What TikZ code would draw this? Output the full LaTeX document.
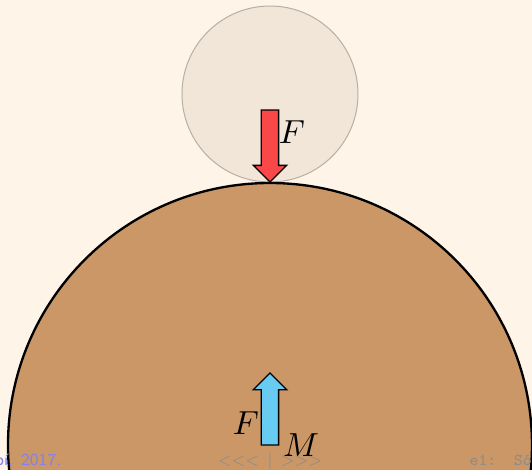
\documentclass[tikz,border=0pt]{standalone}
\usepackage{tikz}
\usetikzlibrary{shapes.arrows}
\definecolor{paper}{RGB}{255,244,232}
\definecolor{ballfill}{RGB}{242,230,216}
\definecolor{balledge}{RGB}{185,175,165}
\definecolor{earthfill}{RGB}{203,151,102}
\definecolor{forcered}{RGB}{250,72,72}
\definecolor{forceblue}{RGB}{104,204,242}
\definecolor{footblue}{RGB}{130,130,235}
\definecolor{footgray}{RGB}{140,140,140}
\tikzset{force/.style={single arrow, draw=black, line width=0.4pt, inner sep=2.4pt,
    single arrow head extend=2.4pt, minimum height=21.6pt, outer sep=0pt, anchor=tip},
  foot/.style={font=\fontsize{5}{6}\selectfont\sffamily, inner sep=0pt, anchor=base}}
\begin{document}
\begin{tikzpicture}[x=0.3pt, y=0.3pt]
            \clip (0,0) rectangle (532,469);
            \fill[paper] (0,0) rectangle (532,469);
            % ball
            \draw[balledge, line width=0.3pt, fill=ballfill] (270,375) circle (88);
            % earth
            \draw[black, line width=0.7pt, fill=earthfill] (270,24) circle (262);
            % forces
            \node[force, fill=forcered, rotate=-90] (Fball) at (270,287) {};
            \node[force, fill=forceblue, rotate=90] (Fearth) at (270,96) {};
            \node (Ftop) at (292,337) {$F$};
            \node (Fbot) at (246,46) {$F$};
            \node (M) at (301,24) {$M$};
            % footer
            \node[foot, anchor=base east, text=footblue] (date) at (62,3) {spí. 2017.};
            \node[foot, text=footgray] (nav) at (270,3) {{<}{<}{<}\enspace|\enspace{>}{>}{>}};
            \node[foot, anchor=base west, text=footgray, font=\fontsize{5}{6}\selectfont\ttfamily] (sec) at (469,3) {e1:\ \ Sól};
        \end{tikzpicture}
\end{document}
